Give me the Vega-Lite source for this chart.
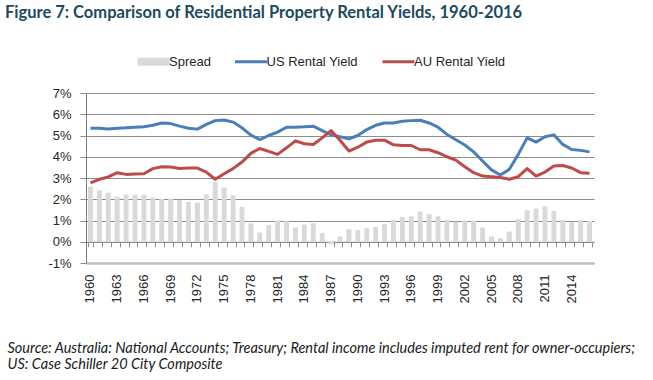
{
  "$schema": "https://vega.github.io/schema/vega-lite/v6.json",
  "width": 508,
  "height": 170,
  "padding": {"left": 5, "top": 4, "right": 5, "bottom": 5},
  "background": "white",
  "title": {
    "text": "Figure 7: Comparison of Residential Property Rental Yields, 1960-2016",
    "anchor": "start",
    "frame": "group",
    "dx": -81,
    "offset": 34,
    "font": "Lato",
    "fontSize": 16.5,
    "fontWeight": "bold",
    "color": "#1B4A5E"
  },
  "config": {
    "view": {"stroke": null},
    "axis": {"labelFont": "Liberation Sans", "labelFontSize": 13, "labelColor": "#262626"}
  },
  "data": {
    "values": [
      {"year": 1960, "spread": 2.59, "us": 5.34, "au": 2.77},
      {"year": 1961, "spread": 2.42, "us": 5.34, "au": 2.94},
      {"year": 1962, "spread": 2.31, "us": 5.31, "au": 3.05},
      {"year": 1963, "spread": 2.12, "us": 5.34, "au": 3.25},
      {"year": 1964, "spread": 2.22, "us": 5.36, "au": 3.17},
      {"year": 1965, "spread": 2.22, "us": 5.39, "au": 3.19},
      {"year": 1966, "spread": 2.22, "us": 5.41, "au": 3.2},
      {"year": 1967, "spread": 2.08, "us": 5.48, "au": 3.44},
      {"year": 1968, "spread": 2.03, "us": 5.59, "au": 3.53},
      {"year": 1969, "spread": 2.03, "us": 5.56, "au": 3.52},
      {"year": 1970, "spread": 1.97, "us": 5.44, "au": 3.45},
      {"year": 1971, "spread": 1.87, "us": 5.34, "au": 3.47},
      {"year": 1972, "spread": 1.84, "us": 5.3, "au": 3.47},
      {"year": 1973, "spread": 2.23, "us": 5.52, "au": 3.28},
      {"year": 1974, "spread": 2.81, "us": 5.7, "au": 2.94},
      {"year": 1975, "spread": 2.55, "us": 5.73, "au": 3.2},
      {"year": 1976, "spread": 2.19, "us": 5.63, "au": 3.44},
      {"year": 1977, "spread": 1.64, "us": 5.36, "au": 3.75},
      {"year": 1978, "spread": 0.87, "us": 5.02, "au": 4.16},
      {"year": 1979, "spread": 0.44, "us": 4.81, "au": 4.39},
      {"year": 1980, "spread": 0.78, "us": 5.0, "au": 4.25},
      {"year": 1981, "spread": 1.0, "us": 5.16, "au": 4.11},
      {"year": 1982, "spread": 0.97, "us": 5.39, "au": 4.42},
      {"year": 1983, "spread": 0.67, "us": 5.39, "au": 4.75},
      {"year": 1984, "spread": 0.81, "us": 5.41, "au": 4.61},
      {"year": 1985, "spread": 0.87, "us": 5.44, "au": 4.58},
      {"year": 1986, "spread": 0.41, "us": 5.23, "au": 4.89},
      {"year": 1987, "spread": -0.12, "us": 5.03, "au": 5.23},
      {"year": 1988, "spread": 0.25, "us": 4.94, "au": 4.78},
      {"year": 1989, "spread": 0.59, "us": 4.84, "au": 4.27},
      {"year": 1990, "spread": 0.55, "us": 5.0, "au": 4.45},
      {"year": 1991, "spread": 0.64, "us": 5.28, "au": 4.69},
      {"year": 1992, "spread": 0.7, "us": 5.48, "au": 4.78},
      {"year": 1993, "spread": 0.83, "us": 5.59, "au": 4.78},
      {"year": 1994, "spread": 1.03, "us": 5.59, "au": 4.56},
      {"year": 1995, "spread": 1.16, "us": 5.67, "au": 4.53},
      {"year": 1996, "spread": 1.2, "us": 5.7, "au": 4.53},
      {"year": 1997, "spread": 1.42, "us": 5.72, "au": 4.33},
      {"year": 1998, "spread": 1.3, "us": 5.59, "au": 4.33},
      {"year": 1999, "spread": 1.2, "us": 5.39, "au": 4.19},
      {"year": 2000, "spread": 1.03, "us": 5.05, "au": 4.0},
      {"year": 2001, "spread": 0.94, "us": 4.8, "au": 3.84},
      {"year": 2002, "spread": 1.0, "us": 4.55, "au": 3.53},
      {"year": 2003, "spread": 1.0, "us": 4.23, "au": 3.25},
      {"year": 2004, "spread": 0.67, "us": 3.8, "au": 3.09},
      {"year": 2005, "spread": 0.25, "us": 3.38, "au": 3.06},
      {"year": 2006, "spread": 0.16, "us": 3.14, "au": 3.02},
      {"year": 2007, "spread": 0.48, "us": 3.41, "au": 2.94},
      {"year": 2008, "spread": 1.06, "us": 4.11, "au": 3.06},
      {"year": 2009, "spread": 1.48, "us": 4.89, "au": 3.44},
      {"year": 2010, "spread": 1.56, "us": 4.69, "au": 3.09},
      {"year": 2011, "spread": 1.67, "us": 4.94, "au": 3.28},
      {"year": 2012, "spread": 1.45, "us": 5.03, "au": 3.56},
      {"year": 2013, "spread": 1.02, "us": 4.58, "au": 3.59},
      {"year": 2014, "spread": 0.91, "us": 4.34, "au": 3.47},
      {"year": 2015, "spread": 1.02, "us": 4.3, "au": 3.25},
      {"year": 2016, "spread": 0.98, "us": 4.23, "au": 3.22}
    ]
  },
  "transform": [{"fold": ["spread", "us", "au"], "as": ["series", "value"]}],
  "encoding": {
    "y": {
      "field": "value", "type": "quantitative",
      "scale": {"domain": [-1, 7], "nice": false, "zero": false},
      "axis": {
        "values": [-1, 0, 1, 2, 3, 4, 5, 6, 7],
        "labelExpr": "datum.value + '%'",
        "labelOverlap": false,
        "title": null,
        "ticks": true,
        "tickSize": 6,
        "tickColor": "#8C8C8C",
        "labelPadding": 9,
        "domainColor": "#7A7A7A",
        "grid": true,
        "gridColor": "#8C8C8C",
        "gridWidth": 1
      }
    },
    "color": {
      "field": "series", "type": "nominal",
      "scale": {"domain": ["spread", "us", "au"], "range": ["#D9D9D9", "#4A7EBB", "#BE4B48"]},
      "legend": {
        "orient": "none",
        "legendX": 61,
        "legendY": -38,
        "direction": "horizontal",
        "title": null,
        "padding": 0,
        "symbolSize": 1024,
        "labelFont": "Liberation Sans",
        "labelFontSize": 13,
        "labelColor": "#262626",
        "labelOffset": 9,
        "columnPadding": 17.5,
        "labelExpr": "datum.value == 'spread' ? 'Spread' : datum.value == 'us' ? 'US Rental Yield' : 'AU Rental Yield'",
        "encode": {
          "symbols": {
            "update": {
              "shape": {"signal": "datum.value == 'spread' ? 'M-1,-0.25H1V0.25H-1Z' : 'stroke'"},
              "fill": {"signal": "datum.value == 'spread' ? '#D9D9D9' : 'transparent'"},
              "stroke": {"signal": "datum.value == 'spread' ? 'transparent' : scale('color', datum.value)"},
              "strokeWidth": {"signal": "datum.value == 'spread' ? 0 : 3"},
              "opacity": {"value": 1},
              "fillOpacity": {"value": 1},
              "strokeOpacity": {"value": 1}
            }
          }
        }
      }
    }
  },
  "resolve": {"axis": {"x": "independent"}},
  "layer": [
    {
      "transform": [{"filter": "datum.series == 'spread'"}],
      "mark": {"type": "bar"},
      "encoding": {
        "x": {
          "field": "year", "type": "ordinal",
          "scale": {"type": "band", "paddingInner": 0.45, "paddingOuter": 0.225},
          "axis": {
            "orient": "bottom",
            "values": [1960,1963,1966,1969,1972,1975,1978,1981,1984,1987,1990,1993,1996,1999,2002,2005,2008,2011,2014],
            "labelAngle": 270,
            "labelPadding": 11,
            "ticks": false,
            "tickSize": 0,
            "domain": true,
            "domainColor": "#BFBFBF",
            "domainWidth": 2.5,
            "grid": false,
            "title": ["Source: Australia: National Accounts; Treasury; Rental income includes imputed rent for owner-occupiers;", "US: Case Schiller 20 City Composite"],
            "titleFont": "Lato",
            "titleFontSize": 14.5,
            "titleFontStyle": "italic",
            "titleFontWeight": "normal",
            "titleColor": "#1a1a1a",
            "titleAlign": "left",
            "titleBaseline": "alphabetic",
            "titleX": -79,
            "titleY": 89,
            "titleLineHeight": 16
          }
        }
      }
    },
    {
      "transform": [{"filter": "datum.series != 'spread'"}],
      "mark": {"type": "line", "strokeWidth": 3, "strokeJoin": "round"},
      "encoding": {
        "x": {
          "field": "year", "type": "ordinal",
          "axis": {
            "orient": "bottom",
            "offset": -21.25,
            "labels": false,
            "ticks": true,
            "tickBand": "extent",
            "tickSize": 5,
            "tickColor": "#8C8C8C",
            "domain": true,
            "domainColor": "#8C8C8C",
            "grid": false,
            "title": null
          }
        }
      }
    }
  ]
}
